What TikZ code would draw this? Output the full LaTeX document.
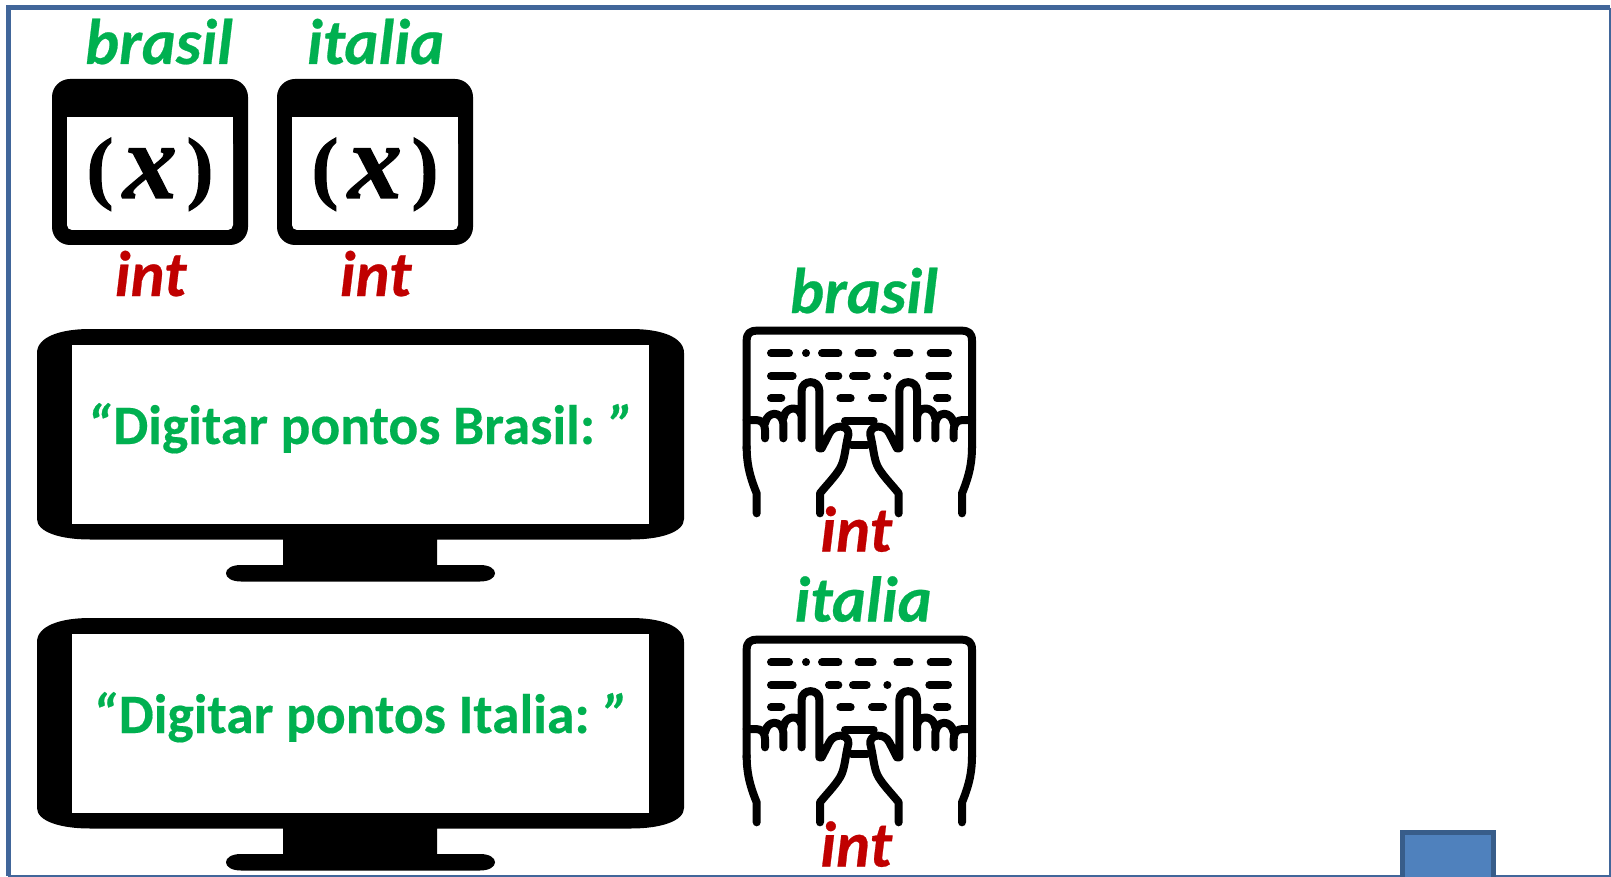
\documentclass[tikz,border=0pt]{standalone}
\usepackage{fontspec}
\setmainfont{Carlito}[BoldFeatures={FakeBold=0.3},BoldItalicFeatures={FakeBold=0.4}]
\newfontfamily\parenfont{Liberation Serif}[BoldFeatures={FakeBold=1.6},BoldItalicFeatures={FakeBold=1.2}]
\definecolor{frameblue}{HTML}{41669A}
\definecolor{boxfill}{HTML}{4F81BD}
\definecolor{boxline}{HTML}{385D8A}
\definecolor{vargreen}{HTML}{00B050}
\definecolor{typered}{HTML}{C00000}
\newcommand{\kbhand}{%
    \draw[kbline,scale=1/3] (80,580) -- (80,520) .. controls (55,460) and (50,420) .. (50,380);
    \draw[kbline,scale=1/3] (50,300) -- (78,300) .. controls (95,300) and (105,312) .. (105,330) -- (105,355);
    \draw[kbline,scale=1/3] (105,310) .. controls (112,272) and (155,272) .. (160,310) -- (160,355);
    \draw[kbline,scale=1/3] (160,295) .. controls (165,258) and (210,255) .. (215,290) -- (215,355) (215,290) -- (215,212)
      .. controls (215,178) and (268,178) .. (268,212) -- (268,385) -- (275,385) -- (298,340)
      .. controls (312,310) and (360,315) .. (355,345) .. controls (345,385) and (345,420) .. (330,445)
      .. controls (315,470) and (290,495) .. (270,520) -- (270,580);
}
\tikzset{
  varname/.style={font=\fontsize{64.5}{64.5}\selectfont\bfseries\itshape,text=vargreen,anchor=base,inner sep=0pt},
  typename/.style={font=\fontsize{64.5}{64.5}\selectfont\bfseries\itshape,text=typered,anchor=base,inner sep=0pt},
  prompt/.style={font=\fontsize{55.6}{55.6}\selectfont\bfseries,text=vargreen,anchor=base,inner sep=0pt},
  parenstyle/.style={font=\fontsize{80}{80}\parenfont\bfseries,inner sep=0pt,anchor=base},
  symstyle/.style={font=\fontsize{108}{108}\parenfont\bfseries\itshape,inner sep=0pt,anchor=base},
  kbline/.style={draw=black,line width=8pt,line cap=round,line join=round},
  pics/varbox/.style={code={
    \fill[black,rounded corners=18pt] (0,0) rectangle (196,166);
    \fill[white,rounded corners=5pt] (15,60) rectangle (181,151);
    \fill[white] (15,38) rectangle (181,70);
    \node[parenstyle] (-l) at (48,114.6) {(};
    \node[parenstyle] (-r) at (148,114.6) {)};
    \node[symstyle] (-sym) at (98,119) {x};
  }},
  pics/monitor/.style={code={
    \fill[black] (37,24) .. controls (37,8) and (60,0) .. (90,0) -- (631,0) .. controls (661,0) and (684,8) .. (684,24)
      -- (684,190) .. controls (684,203) and (661,210.5) .. (631,210.5) -- (437,210.5) -- (437,236) -- (480,236)
      .. controls (500,236) and (500,252.5) .. (480,252.5) -- (241,252.5) .. controls (221,252.5) and (221,236) .. (241,236)
      -- (283,236) -- (283,210.5) -- (90,210.5) .. controls (60,210.5) and (37,203) .. (37,190) -- cycle;
    \fill[white] (72,15.5) rectangle (649,195);
  }},
  pics/keyboard/.style={code={
    \draw[kbline,scale=1/3] (50,385) -- (50,62) .. controls (50,40) and (60,32) .. (82,32) -- (694,32) .. controls (716,32) and (726,40) .. (726,62) -- (726,385);
    \kbhand
    \begin{scope}[xshift=258.67pt,xscale=-1]\kbhand\end{scope}
    \draw[kbline,scale=1/3] (345,302) -- (431,302) (365,375) -- (411,375);
    \draw[kbline,scale=1/3]
      (123,100) -- (177,100) (228,100) -- (228.1,100) (276,100) -- (325,100) (386,100) -- (428,100) (502,100) -- (538,100) (602,100) -- (654,100)
      (123,168) -- (188,168) (297,168) -- (325,168) (369,168) -- (410,168) (472,168) -- (472.1,168) (598,168) -- (654,168)
      (123,235) -- (154,235) (331,235) -- (362,235) (426,235) -- (459,235) (621,235) -- (652,235);
  }}
}
\begin{document}
\begin{tikzpicture}[x=1pt,y=-1pt]
\useasboundingbox (0,0) rectangle (1611,877);
\draw[frameblue,line width=5pt] (1610,8) -- (8,8) -- (8,876);
\draw[frameblue,line width=1.5pt] (1610,8) -- (1610,876) -- (8,876);
\draw[boxline,line width=5pt,fill=boxfill] (1402.5,832.5) rectangle (1493.5,879);
% variables
\node[varname] (nbrasil) at (159,64) {brasil};
\node[varname] (nitalia) at (375.5,64) {italia};
\pic (boxa) at (52,79) {varbox};
\pic (boxb) at (277,79) {varbox};
\node[typename] (ta) at (150.5,296) {int};
\node[typename] (tb) at (375.5,296) {int};
% monitors
\pic (mona) at (0,329) {monitor};
\pic (monb) at (0,618) {monitor};
\node[prompt] (pa) at (360.5,444) {\textit{“}\hspace{0.04em}Digitar pontos Brasil:\hspace{0.27em}\textit{”}};
\node[prompt] (pb) at (360.5,733) {\textit{“}\hspace{0.04em}Digitar pontos Italia:\hspace{0.27em}\textit{”}};
% keyboards
\node[varname] (kna) at (864,313) {brasil};
\pic (kba) at (730,320) {keyboard};
\node[typename] (kta) at (856,551.5) {int};
\node[varname] (knb) at (863,621.5) {italia};
\pic (kbb) at (730,629) {keyboard};
\node[typename] (ktb) at (856,866.5) {int};
\end{tikzpicture}
\end{document}
